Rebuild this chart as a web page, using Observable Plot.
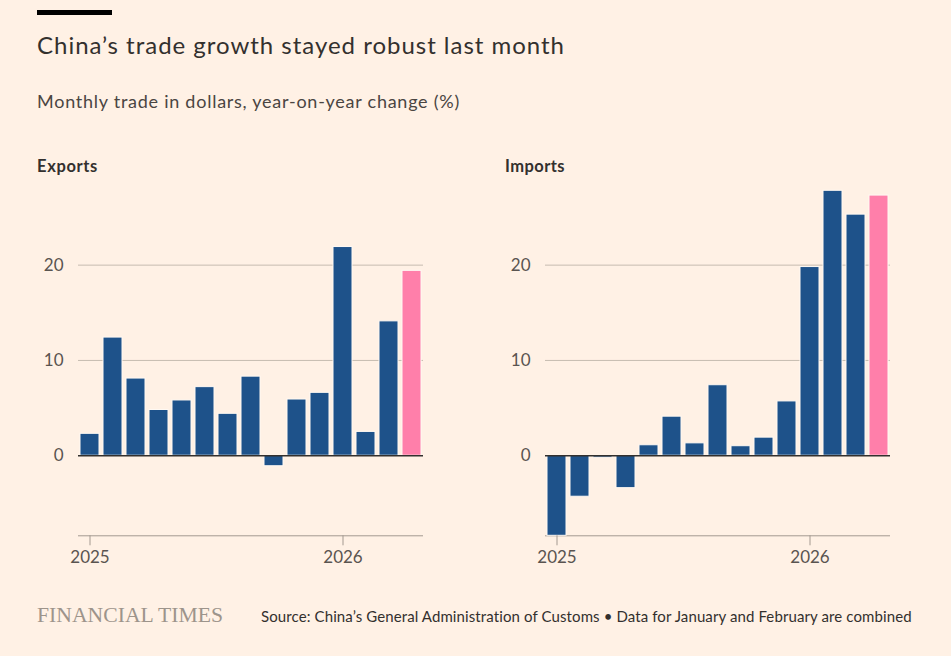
<!DOCTYPE html>
<html><head><meta charset="utf-8">
<script src="https://cdn.jsdelivr.net/npm/d3@7"></script>
<script src="https://cdn.jsdelivr.net/npm/@observablehq/plot@0.6"></script>
<style>
html,body{margin:0;padding:0;background:#fff1e5;}
#page{position:relative;width:951px;height:656px;overflow:hidden;background:#fff1e5;font-family:Lato,"Noto Sans",sans-serif;}
.t{position:absolute;left:0;top:0;white-space:nowrap;line-height:1;}
.bl{display:inline-block;width:0;height:0;vertical-align:baseline;}
.panel{position:absolute;top:150px;}
.panel svg{overflow:visible;}
</style></head><body>
<div id="page">
  <div style="position:absolute;left:37px;top:10px;width:75px;height:5px;background:#000"></div>
  <div class="t" data-x="37" data-b="54" data-w="528" style="font-size:24px;color:#33302e">China’s trade growth stayed robust last month<span class="bl"></span></div>
  <div class="t" data-x="37" data-b="108" data-w="423" style="font-size:18px;color:#4a4542">Monthly trade in dollars, year-on-year change (%)<span class="bl"></span></div>
  <div class="t" id="lblExp" data-x="37" data-b="172" data-w="61" style="font-size:16.5px;font-weight:bold;color:#33302e"><span class="bl"></span></div>
  <div class="t" id="lblImp" data-x="505" data-b="172" data-w="60" style="font-size:16.5px;font-weight:bold;color:#33302e"><span class="bl"></span></div>
  <div id="left" class="panel" style="left:0px"></div>
  <div id="right" class="panel" style="left:470px"></div>
  <div class="t" data-x="37" data-b="622" data-w="186" data-scale="1" style="font-family:'Liberation Serif','DejaVu Serif',serif;font-size:20px;color:#9d948b">FINANCIAL TIMES<span class="bl"></span></div>
  <div class="t" data-x="261" data-b="622" data-w="651" style="font-size:15px;color:#33302e">Source: China’s General Administration of Customs • Data for January and February are combined<span class="bl"></span></div>
</div>
<script>
const panelTitles = ["Exports", "Imports"];
const months = ["Jan–Feb 2025","Mar 2025","Apr 2025","May 2025","Jun 2025","Jul 2025","Aug 2025","Sep 2025","Oct 2025","Nov 2025","Dec 2025","Jan–Feb 2026","Mar 2026","Apr 2026","May 2026"];
const exportsYoY = [2.3, 12.4, 8.1, 4.8, 5.8, 7.2, 4.4, 8.3, -1.1, 5.9, 6.6, 21.9, 2.5, 14.1, 19.4];
const importsYoY = [-8.4, -4.3, -0.2, -3.4, 1.1, 4.1, 1.3, 7.4, 1.0, 1.9, 5.7, 19.8, 27.8, 25.3, 27.3];
const yTicks = [0, 10, 20];
const xTickMonths = ["Jan–Feb 2025", "Jan–Feb 2026"];
const xTickLabels = ["2025", "2026"];

const blue = "#1e528a", pink = "#ff7faa";
const gridColor = "#c6bbb0", axisColor = "#a39990", zeroColor = "#33302e", tickText = "#5a5450";
const yDomain = d3.extent(exportsYoY.concat(importsYoY));

document.getElementById("lblExp").insertBefore(document.createTextNode(panelTitles[0]), document.querySelector("#lblExp .bl"));
document.getElementById("lblImp").insertBefore(document.createTextNode(panelTitles[1]), document.querySelector("#lblImp .bl"));

function panel(values, ml, mr) {
  const data = months.map((m, i) => ({m, v: values[i], fill: i === months.length - 1 ? pink : blue}));
  return Plot.plot({
    width: 470, height: 420,
    marginLeft: ml, marginRight: mr, marginTop: 40.3, marginBottom: 34.7,
    style: {background: "transparent", fontFamily: "Lato, 'Noto Sans', sans-serif", fontSize: "17px", color: tickText, overflow: "visible"},
    x: {domain: months, paddingInner: 0.16, paddingOuter: 0.08, label: null},
    y: {domain: yDomain, label: null},
    marks: [
      Plot.ruleY(yTicks.filter(t => t !== 0), {stroke: gridColor, strokeWidth: 1}),
      Plot.ruleY([yDomain[0]], {stroke: axisColor, strokeWidth: 1}),
      Plot.barY(data, {x: "m", y: "v", fill: "fill", stroke: "#fff9f3", strokeWidth: 1}),
      Plot.ruleY([0], {stroke: zeroColor, strokeWidth: 1.6}),
      Plot.axisY({ticks: yTicks, tickSize: 0, tickPadding: 15, label: null, fill: tickText}),
      Plot.axisX({ticks: xTickMonths, tickFormat: d => xTickLabels[xTickMonths.indexOf(d)], tickSize: 10, tickPadding: 5, stroke: axisColor, fill: tickText, label: null})
    ]
  });
}

document.getElementById("left").appendChild(panel(exportsYoY, 78, 47));
document.getElementById("right").appendChild(panel(importsYoY, 75, 50));

// position texts by baseline and fit widths
document.querySelectorAll(".t").forEach(el => {
  const target = +el.dataset.w;
  const w0 = el.getBoundingClientRect().width;
  if (el.dataset.scale) {
    el.style.transformOrigin = "0 0";
    el.style.transform = `scaleX(${target / w0})`;
  } else {
    const n = el.textContent.length;
    el.style.letterSpacing = ((target - w0) / n) + "px";
  }
  el.style.left = el.dataset.x + "px";
  const page = document.getElementById("page").getBoundingClientRect();
  const b = el.querySelector(".bl").getBoundingClientRect().top - page.top;
  el.style.top = (+el.dataset.b - b) + "px";
});
</script>
</body></html>
